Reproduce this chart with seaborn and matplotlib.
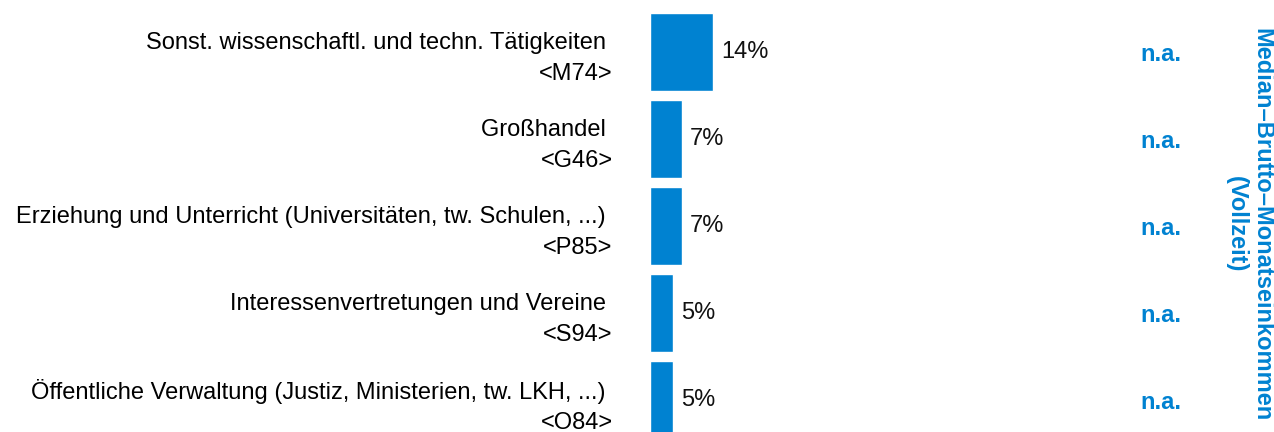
import numpy as np
import pandas as pd
import matplotlib
matplotlib.use("Agg")
import matplotlib.pyplot as plt
import matplotlib.transforms as mtransforms
import seaborn as sns

# data
branchen = [
    "Sonst. wissenschaftl. und techn. Tätigkeiten",
    "Großhandel",
    "Erziehung und Unterricht (Universitäten, tw. Schulen, ...)",
    "Interessenvertretungen und Vereine",
    "Öffentliche Verwaltung (Justiz, Ministerien, tw. LKH, ...)",
]
codes = ["<M74>", "<G46>", "<P85>", "<S94>", "<O84>"]
anteil = [14, 7, 7, 5, 5]
einkommen = ["n.a.", "n.a.", "n.a.", "n.a.", "n.a."]

blue = "#0082D1"

sns.set_style("white")
plt.rcParams["font.family"] = ["Liberation Sans", "DejaVu Sans"]

df = pd.DataFrame({"label": [f"{b} \n{c}" for b, c in zip(branchen, codes)],
                   "anteil": anteil})

W, H = 1274, 432
fig = plt.figure(figsize=(W / 100, H / 100), dpi=100)
ax = fig.add_axes([650 / W, 0, 1 - 650 / W, 1])

sns.barplot(data=df, y="label", x="anteil", orient="h", color=blue,
            saturation=1, width=0.9, ax=ax)

ax.set_xlim(0, (W - 650) / 4.5)
ax.set_ylim((H - 52) / 87, -52 / 87)
sns.despine(ax=ax, left=True, bottom=True)
ax.set_xlabel("")
ax.set_ylabel("")
ax.set_xticks([])
ax.tick_params(axis="y", length=0, pad=27, labelsize=17)
for t in ax.get_yticklabels():
    t.set_linespacing(1.5)
    t.set_color("black")

for i, v in enumerate(anteil):
    ax.annotate(f"{v}%", (v, i), xytext=(6, 0), textcoords="offset points",
                ha="left", va="center", fontsize=17, color="#111111")

trans = mtransforms.blended_transform_factory(fig.transFigure, ax.transData)
for i, s in enumerate(einkommen):
    ax.text(1161 / W, i + 0.03, s, transform=trans, ha="center", va="center",
            fontsize=17, fontweight="bold", color=blue)

fig.text(1249 / W, 0.48, "Median–Brutto–Monatseinkommen\n(Vollzeit)",
         rotation=-90, ha="center", va="center", multialignment="center",
         fontsize=17, fontweight="bold", color=blue, linespacing=1.1)

fig.savefig("out.png", dpi=100)
